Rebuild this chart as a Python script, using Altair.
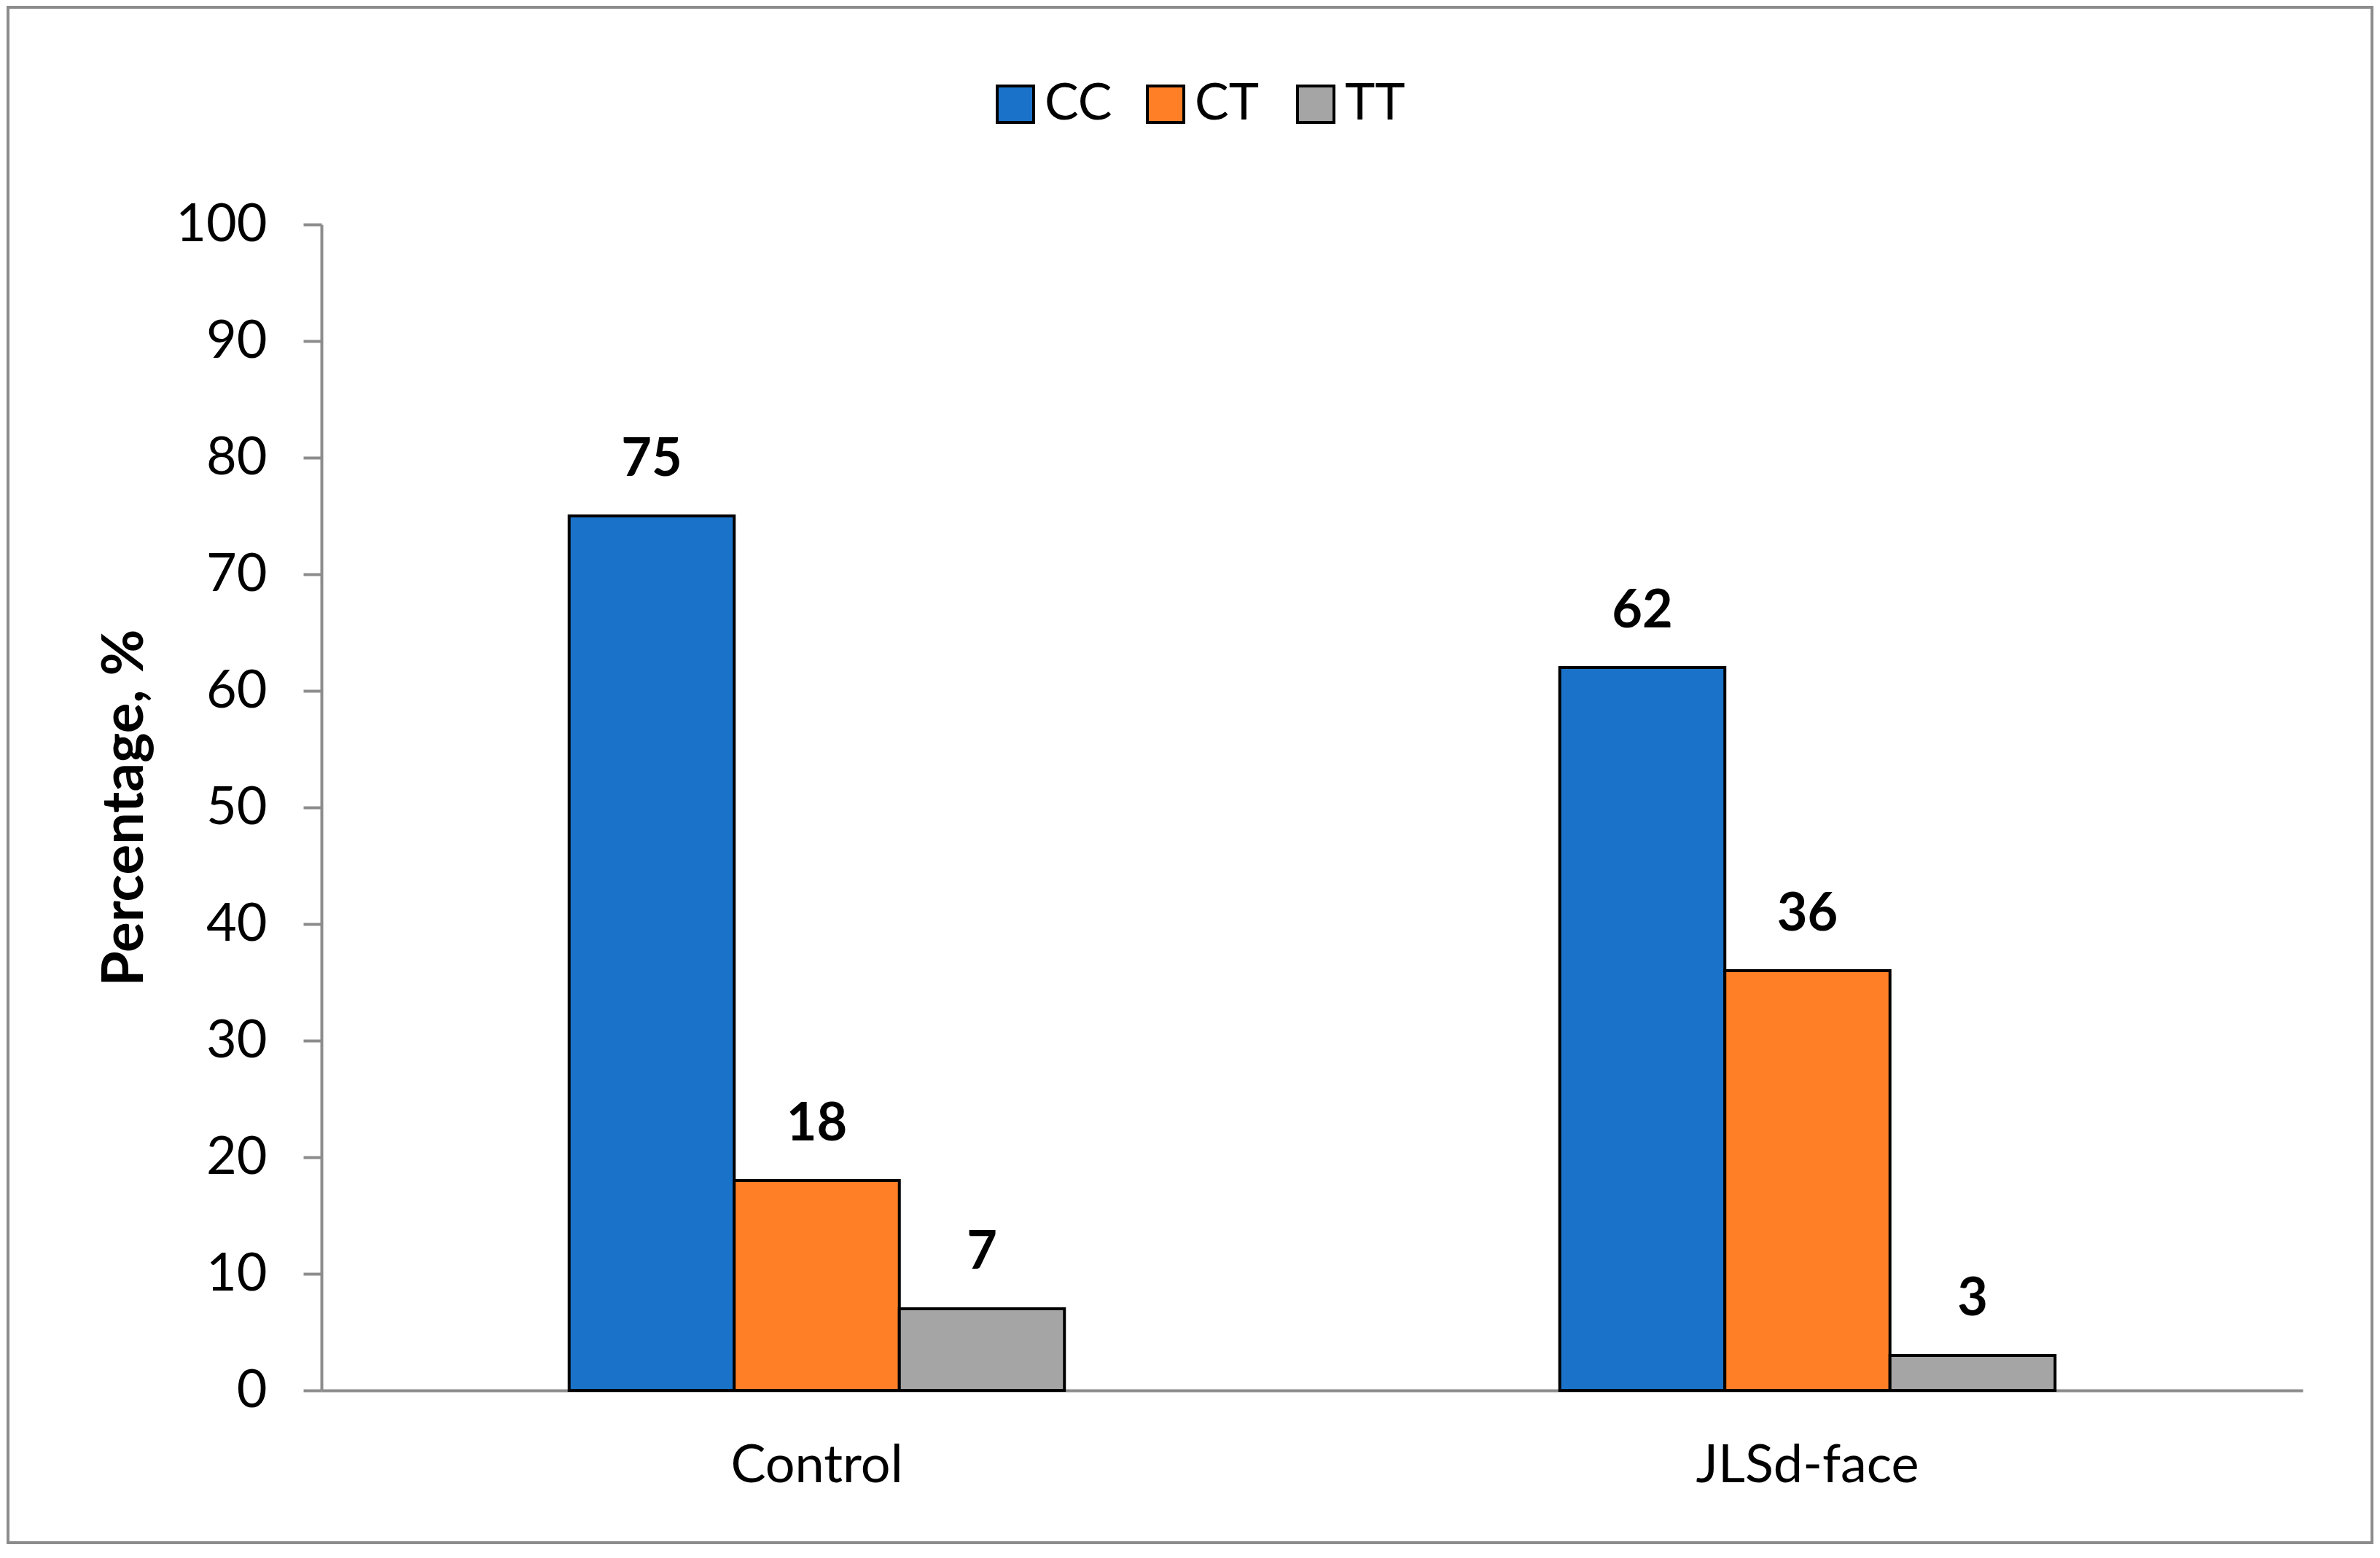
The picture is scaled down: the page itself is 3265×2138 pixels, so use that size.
import altair as alt
import pandas as pd

groups = ["Control", "JLSd-face"]
genotypes = ["CC", "CT", "TT"]
cc_values = [75, 62]
ct_values = [18, 36]
tt_values = [7, 3]
y_ticks = [0, 10, 20, 30, 40, 50, 60, 70, 80, 90, 100]
colors = ["#1A73C8", "#FF7F27", "#A5A5A5"]

rows = []
for i, g in enumerate(groups):
    for gt, vals in zip(genotypes, [cc_values, ct_values, tt_values]):
        rows.append({"group": g, "genotype": gt, "value": vals[i]})
df = pd.DataFrame(rows)

FONT = "Lato"
GRAY = "#8C8C8C"

x_enc = alt.X(
    "group:N",
    sort=groups,
    scale=alt.Scale(paddingInner=0.5, paddingOuter=0.25),
    axis=alt.Axis(
        title=None, labelAngle=0, ticks=False, tickSize=0, labelPadding=68,
        labelFontSize=72, labelFont=FONT, labelColor="black", labelLimit=0,
        domainColor=GRAY, domainWidth=4,
    ),
)
xoff_enc = alt.XOffset("genotype:N", sort=genotypes,
                       scale=alt.Scale(paddingInner=0, paddingOuter=0))
y_enc = alt.Y(
    "value:Q",
    scale=alt.Scale(domain=[0, 100], nice=False),
    axis=alt.Axis(
        title="Percentage, %", values=y_ticks, grid=False,
        tickSize=25, tickColor=GRAY, tickWidth=4,
        domainColor=GRAY, domainWidth=4,
        labelFontSize=72, labelFont=FONT, labelColor="black", labelPadding=50,
        titleFontSize=78, titleFont=FONT, titleFontWeight="bold", titleColor="black",
        titlePadding=30,
    ),
)

bars = alt.Chart(df).mark_bar(stroke="black", strokeWidth=4).encode(
    x=x_enc,
    xOffset=xoff_enc,
    y=y_enc,
    color=alt.Color(
        "genotype:N",
        sort=genotypes,
        scale=alt.Scale(domain=genotypes, range=colors),
        legend=alt.Legend(
            title=None, orient="none", direction="horizontal",
            legendX=917, legendY=-200, padding=0,
            symbolType="square", symbolSize=2500, symbolStrokeColor="black",
            symbolStrokeWidth=4, symbolOpacity=1,
            labelFontSize=70, labelFont=FONT, labelColor="black",
            labelOffset=5, columnPadding=38, gridAlign="all",
        ),
    ),
)

labels = alt.Chart(df).mark_text(
    font=FONT, fontSize=72, fontWeight="bold", color="black",
    baseline="alphabetic", dy=-55,
).encode(
    x=alt.X("group:N", sort=groups),
    xOffset=alt.XOffset("genotype:N", sort=genotypes),
    y="value:Q",
    text="value:Q",
)

border = alt.Chart(pd.DataFrame({"k": [0]})).mark_rect(
    fillOpacity=0, stroke=GRAY, strokeWidth=4
).encode(
    x=alt.value(-430), x2=alt.value(2813),
    y=alt.value(-298), y2=alt.value(1809),
)

chart = alt.layer(border, bars, labels).properties(
    width=2718, height=1600,
    autosize=alt.AutoSizeParams(type="none"),
    padding={"left": 433, "top": 300, "right": 98, "bottom": 222},
    background="white",
).configure_view(stroke=None)

chart.save("out.html", embed_options={"renderer": "svg", "actions": False})
